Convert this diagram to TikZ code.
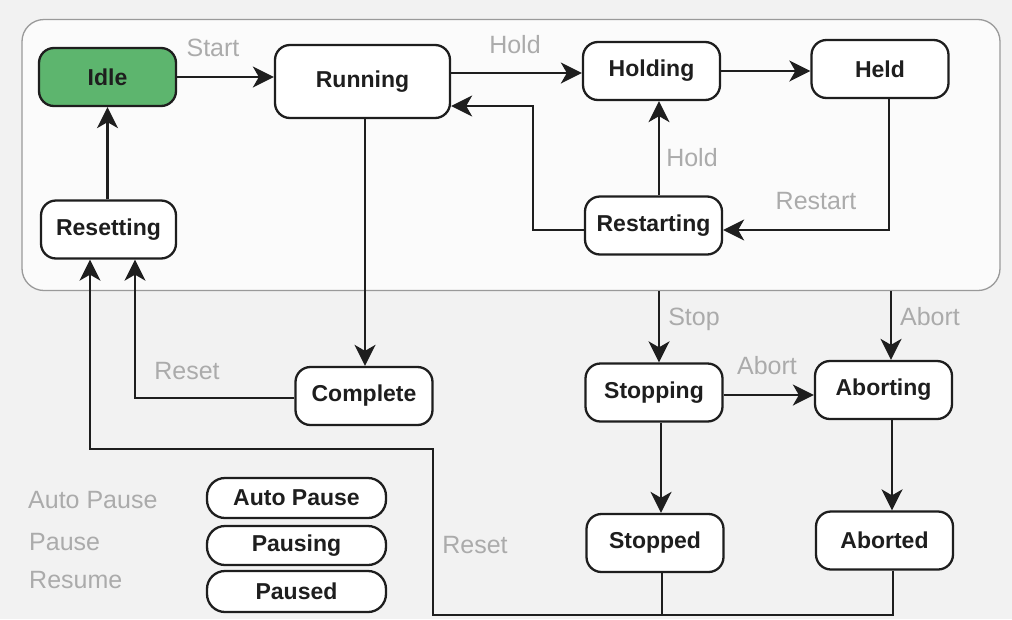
\documentclass[tikz,border=0pt]{standalone}
\usepackage{fontspec}
\setmainfont{Liberation Sans}
\usetikzlibrary{arrows.meta}

\definecolor{idlegreen}{HTML}{5DB56E}
\definecolor{lblgray}{HTML}{ABABAB}
\definecolor{inkline}{HTML}{1E1E1E}
\definecolor{pagebg}{HTML}{F2F2F2}
\definecolor{boxbg}{HTML}{FBFBFB}
\definecolor{boxedge}{HTML}{9A9A9A}

\tikzset{
  state/.style={draw=inkline, line width=2.3pt, fill=white, rounded corners=15pt,
    text=inkline, font=\bfseries\fontsize{23}{27}\selectfont,
    inner sep=0pt, minimum width=137pt, minimum height=58pt},
  pausestate/.style={state, rounded corners=18pt, minimum width=179pt, minimum height=40pt},
  superbox/.style={draw=boxedge, line width=1.3pt, fill=boxbg, rounded corners=22pt,
    inner sep=0pt},
  trans/.style={draw=inkline, line width=2.4pt,
    -{Stealth[length=21pt, width=21pt, inset=6pt]}},
  wire/.style={draw=inkline, line width=2.4pt},
  evt/.style={text=lblgray, font=\fontsize{25}{28}\selectfont, inner sep=0pt},
}

\begin{document}
\begin{tikzpicture}[x=1pt, y=-1pt]
  % page
  \fill[pagebg] (0,0) rectangle (1012,619);
  \useasboundingbox (0,0) rectangle (1012,619);

  % superstate holding the normal operating states
  \node[superbox, minimum width=978pt, minimum height=271pt] (super) at (511,155) {};

  % states
  \node[state, fill=idlegreen] (idle) at (107.5,77) {Idle};
  \node[state, minimum width=175pt, minimum height=73pt] (running) at (362.5,81.5) {Running};
  \node[state] (holding) at (651.5,71) {Holding};
  \node[state] (held) at (880,69) {Held};
  \node[state] (restarting) at (653.5,225.5) {Restarting};
  \node[state, minimum width=135pt] (resetting) at (108.5,229.5) {Resetting};
  \node[state] (complete) at (364,396) {Complete};
  \node[state] (stopping) at (654,392.5) {Stopping};
  \node[state] (aborting) at (883.5,390) {Aborting};
  \node[state] (stopped) at (655,543) {Stopped};
  \node[state] (aborted) at (884.5,540.5) {Aborted};

  \node[pausestate] (autopause) at (296.5,498) {Auto Pause};
  \node[pausestate, minimum height=39pt] (pausing) at (296.5,545.5) {Pausing};
  \node[pausestate, minimum height=41pt] (paused) at (296.5,591.5) {Paused};

  % routing points
  \coordinate (rsx) at (533,106);
  \coordinate (rsy) at (533,230);
  \coordinate (hdx) at (889,230);
  \coordinate (hx) at (659,0);
  \coordinate (cpx) at (135,398);
  \coordinate (rtx) at (90,449);
  \coordinate (rty) at (433,449);
  \coordinate (bot) at (662,615);
  \coordinate (botl) at (433,615);
  \coordinate (abx) at (893,615);
  \coordinate (stx) at (659,0);
  \coordinate (atx) at (891,0);

  % transitions inside the superstate
  \draw[trans] (idle.east) -- (running.west |- idle.east);
  \draw[trans] (running.east |- 0,73) -- (holding.west |- 0,73);
  \draw[trans] (holding.east) -- (held.west |- holding.east);
  \draw[trans] (held.south -| hdx) -- (hdx) -- (restarting.east |- hdx);
  \draw[trans] (restarting.north -| hx) -- (holding.south -| hx);
  \draw[trans] (restarting.west |- rsy) -- (rsy) -- (rsx) -- (running.east |- rsx);
  \draw[trans] (resetting.north -| idle.south) -- (idle.south);
  \draw[trans] (running.south -| 365,0) -- (complete.north -| 365,0);
  \draw[trans] (complete.west |- cpx) -- (cpx) -- (resetting.south -| cpx);

  % transitions leaving the superstate
  \draw[trans] (super.south -| stx) -- (stopping.north -| stx);
  \draw[trans] (super.south -| atx) -- (aborting.north -| atx);
  \draw[trans] (stopping.east |- 0,395) -- (aborting.west |- 0,395);
  \draw[trans] (stopping.south -| 661,0) -- (stopped.north -| 661,0);
  \draw[trans] (aborting.south -| 892,0) -- (aborted.north -| 892,0);

  % reset from the final states back to resetting
  \draw[wire] (aborted.south -| abx) -- (abx) -- (bot);
  \draw[trans] (stopped.south -| bot) -- (bot) -- (botl) -- (rty) -- (rtx)
    -- (resetting.south -| rtx);

  % event labels
  \node[evt] (lstart) at (213,48) {Start};
  \node[evt] (lhold1) at (515,45) {Hold};
  \node[evt] (lhold2) at (692,158) {Hold};
  \node[evt] (lrestart) at (816,201) {Restart};
  \node[evt] (lstop) at (694,319) {Stop};
  \node[evt] (labort1) at (930,317) {Abort};
  \node[evt] (labort2) at (767,366) {Abort};
  \node[evt] (lreset1) at (187,371) {Reset};
  \node[evt] (lreset2) at (475,545) {Reset};
  \node[evt, anchor=west] (lauto) at (28,500) {Auto Pause};
  \node[evt, anchor=west] (lpause) at (29,542) {Pause};
  \node[evt, anchor=west] (lresume) at (29,580) {Resume};
\end{tikzpicture}
\end{document}
